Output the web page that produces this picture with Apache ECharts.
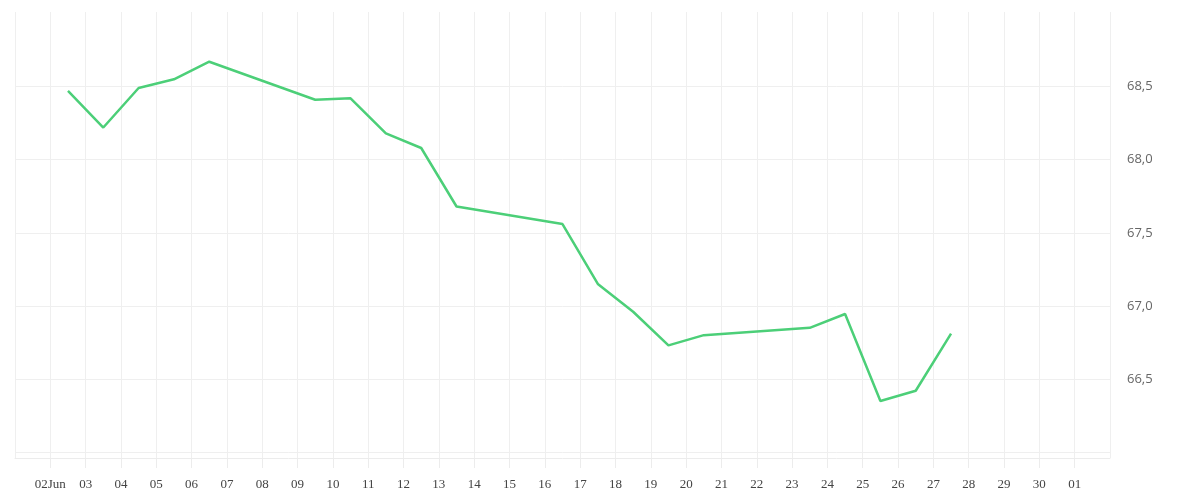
<!DOCTYPE html>
<html><head><meta charset="utf-8">
<script src="https://cdn.jsdelivr.net/npm/echarts@6/dist/echarts.min.js"></script>
<style>html,body{margin:0;padding:0;background:#fff}#c{width:1200px;height:500px}</style>
</head><body><div id="c"></div>
<script>
// Dates of the observations (drawn at midday of each day)
const dates = ['2025-06-02','2025-06-03','2025-06-04','2025-06-05','2025-06-06',
  '2025-06-09','2025-06-10','2025-06-11','2025-06-12','2025-06-13',
  '2025-06-16','2025-06-17','2025-06-18','2025-06-19','2025-06-20',
  '2025-06-23','2025-06-24','2025-06-25','2025-06-26','2025-06-27'];
const values = [68.47, 68.22, 68.49, 68.55, 68.67,
  68.41, 68.42, 68.18, 68.08, 67.68,
  67.56, 67.15, 66.96, 66.73, 66.80,
  66.85, 66.945, 66.35, 66.42, 66.81];
const xStart = '2025-06-01';
const xEnd = '2025-07-02';
const monthAbbr = ['Jan','Feb','Mar','Apr','May','Jun','Jul','Aug','Sep','Oct','Nov','Dec'];
const yTicks = [66, 66.5, 67, 67.5, 68, 68.5];
const yLabels = [66.5, 67, 67.5, 68, 68.5];
const yMin = 65.96, yMax = 69.01;

const DAY = 86400000;
const toTs = (d, t) => Date.parse(d + 'T' + t + 'Z');
const seriesData = dates.map((d, i) => [toTs(d, '12:00:00'), values[i]]);

const chart = echarts.init(document.getElementById('c'), null, {renderer: 'canvas'});
chart.setOption({
  animation: false,
  backgroundColor: '#ffffff',
  grid: {left: 15, right: 90, top: 12, bottom: 42, containLabel: false},
  xAxis: {
    type: 'value',
    min: toTs(xStart, '00:00:00'),
    max: toTs(xEnd, '00:00:00'),
    interval: DAY,
    axisLine: {show: true, lineStyle: {color: '#ececec', width: 1}},
    axisTick: {show: true, length: 10, lineStyle: {color: '#ececec'}},
    splitLine: {show: true, lineStyle: {color: '#efefef', width: 1}},
    axisLabel: {
      showMinLabel: false, showMaxLabel: false,
      margin: 20,
      color: '#444',
      fontFamily: 'Liberation Serif',
      fontSize: 13,
      formatter: (v, idx) => {
        const d = new Date(v);
        const day = String(d.getUTCDate()).padStart(2, '0');
        return idx === 1 ? day + monthAbbr[d.getUTCMonth()] : day;
      }
    }
  },
  yAxis: {
    type: 'value',
    position: 'right',
    min: yMin, max: yMax,
    axisLine: {show: false},
    axisTick: {show: false, customValues: yTicks},
    splitLine: {show: true, lineStyle: {color: '#efefef', width: 1}},
    axisLabel: {
      customValues: yLabels,
      margin: 17,
      padding: [7, 0, 0, 0],
      color: '#666',
      fontFamily: 'Open Sans',
      fontSize: 13,
      formatter: v => Number(v).toFixed(1).replace('.', ',')
    }
  },
  series: [{
    type: 'line',
    data: seriesData,
    showSymbol: false,
    symbol: 'none',
    lineStyle: {color: '#4ccf78', width: 2.5},
    itemStyle: {color: '#4ccf78'}
  }]
});
</script>
</body></html>
